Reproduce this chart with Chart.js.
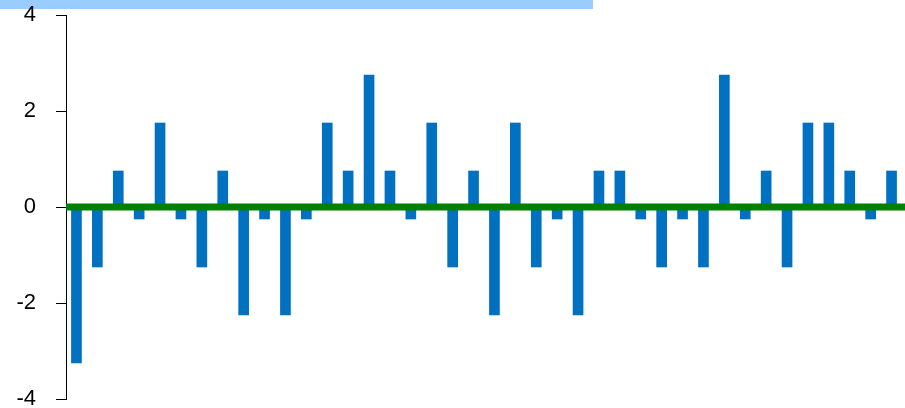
<!DOCTYPE html>
<html>
<head>
<meta charset="utf-8">
<script src="https://cdn.jsdelivr.net/npm/chart.js@4"></script>
<style>
html,body{margin:0;padding:0;background:#fff;}
#wrap{width:905px;height:408px;position:relative;}
</style>
</head>
<body>
<div id="wrap"><canvas id="c" width="905" height="408"></canvas></div>
<script>
const categories = ["1","2","3","4","5","6","7","8","9","10","11","12","13","14","15","16","17","18","19","20",
  "21","22","23","24","25","26","27","28","29","30","31","32","33","34","35","36","37","38","39","40"];
const residuals = [-3.25,-1.25,0.75,-0.25,1.75,-0.25,-1.25,0.75,-2.25,-0.25,
  -2.25,-0.25,1.75,0.75,2.75,0.75,-0.25,1.75,-1.25,0.75,
  -2.25,1.75,-1.25,-0.25,-2.25,0.75,0.75,-0.25,-1.25,-0.25,
  -1.25,2.75,-0.25,0.75,-1.25,1.75,1.75,0.75,-0.25,0.75];
const yTicks = [-4,-2,0,2,4];
const baselineValue = 0;

const overlay = {
  id: 'overlay',
  beforeDraw(chart){
    const ctx = chart.ctx;
    ctx.save();
    ctx.fillStyle = '#fff';
    ctx.fillRect(0,0,chart.width,chart.height);
    ctx.fillStyle = '#99ccff';
    ctx.fillRect(0,0,593,9);
    ctx.restore();
  },
  afterDatasetsDraw(chart){
    const ctx = chart.ctx;
    const y = chart.scales.y.getPixelForValue(baselineValue);
    ctx.save();
    ctx.strokeStyle = '#008000';
    ctx.lineWidth = 7;
    ctx.beginPath();
    ctx.moveTo(chart.chartArea.left, y);
    ctx.lineTo(chart.width, y);
    ctx.stroke();
    ctx.restore();
  }
};

new Chart(document.getElementById('c'), {
  type: 'bar',
  data: {
    labels: categories,
    datasets: [{
      data: residuals,
      backgroundColor: '#0070c0',
      borderWidth: 0,
      barThickness: 10
    }]
  },
  options: {
    responsive: false,
    animation: false,
    devicePixelRatio: 1,
    layout: { padding: { top: 15, bottom: 9, right: 3, left: 0 } },
    plugins: { legend: { display: false }, tooltip: { enabled: false } },
    scales: {
      x: { display: false, offset: true },
      y: {
        min: -4, max: 4,
        afterBuildTicks(scale){ scale.ticks = yTicks.map(v => ({value: v})); },
        afterFit(scale){ scale.width = 66; scale.paddingTop = 0; scale.paddingBottom = 0; },
        border: { display: true, color: '#000', width: 1 },
        grid: { display: true, drawOnChartArea: false, drawTicks: true, tickLength: 10, color: '#000' },
        ticks: {
          color: '#000',
          padding: 20,
          font: { family: 'Liberation Sans, Arial, sans-serif', size: 22 }
        }
      }
    }
  },
  plugins: [overlay]
});
</script>
</body>
</html>
